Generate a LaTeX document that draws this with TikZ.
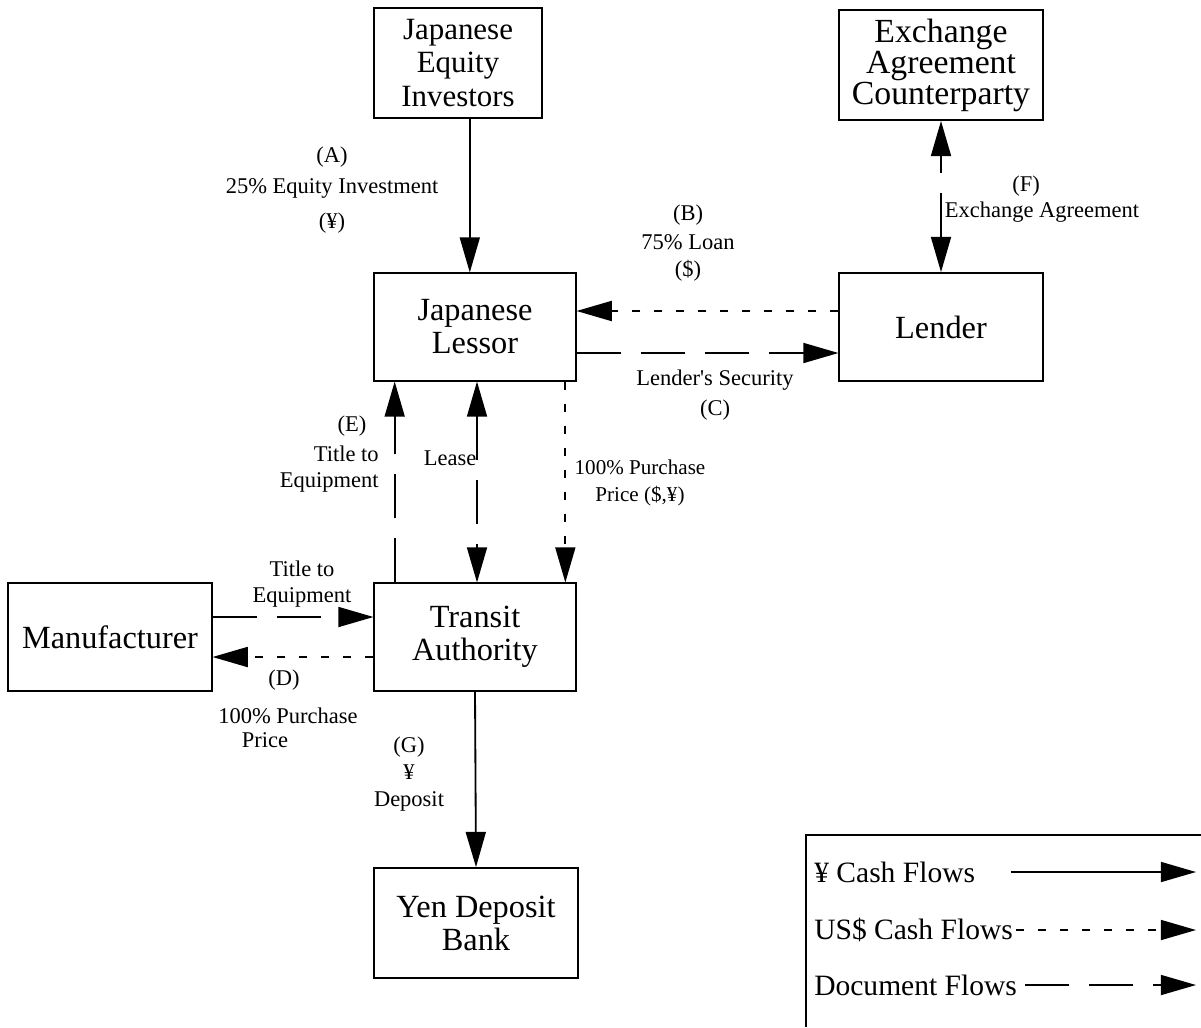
\documentclass[tikz,border=0pt]{standalone}
\usepackage{fontspec}
\setmainfont{Liberation Serif}
\usetikzlibrary{arrows.meta}

\begin{document}
\begin{tikzpicture}[x=0.025cm, y=-0.025cm,
    >={Triangle[length=0.88cm, width=0.5cm]},
    box/.style={draw, line width=1.3pt, align=center, inner sep=0pt,
      font=\fontsize{23}{23.5}\selectfont},
    lbl/.style={align=center, inner sep=0pt, font=\fontsize{16}{19}\selectfont},
    legtext/.style={inner sep=0pt, anchor=west, font=\fontsize{21}{24}\selectfont},
    yenflow/.style={line width=1.3pt, ->},
    usdflow/.style={yenflow, dash pattern=on 0.2cm off 0.35cm},
    docflow/.style={yenflow, dash pattern=on 1.1cm off 0.5cm}]
    \useasboundingbox (0,0) rectangle (1201,1027);
    % boxes
    \node[box, minimum width=4.18cm, minimum height=2.73cm,
      font=\fontsize{22}{23.5}\selectfont] (inv) at (458,63) {Japanese\\Equity\\Investors};
    \node[box, minimum width=5.08cm, minimum height=2.75cm,
      font=\fontsize{24}{20}\selectfont] (exch) at (941,65) {Exchange\\Agreement\\Counterparty};
    \node[box, minimum width=5.03cm, minimum height=2.68cm] (lessor) at (475,327) {Japanese\\Lessor};
    \node[box, minimum width=5.08cm, minimum height=2.7cm] (lender) at (941,327) {Lender};
    \node[box, minimum width=5.03cm, minimum height=2.68cm] (transit) at (475,637) {Transit\\Authority};
    \node[box, minimum width=5.08cm, minimum height=2.68cm] (manuf) at (110,637) {Manufacturer};
    \node[box, minimum width=5.08cm, minimum height=2.75cm] (bank) at (476,923) {Yen Deposit\\Bank};
    % flows
    \draw[yenflow] ([xshift=-0.13cm]lessor.north |- inv.south) -- ([xshift=-0.13cm]lessor.north);
    \draw[usdflow] ([yshift=0.4cm]lender.west) -- ([yshift=0.4cm]lender.west -| lessor.east);
    \draw[docflow] ([yshift=-0.65cm]lessor.east) -- ([yshift=-0.65cm]lessor.east -| lender.west);
    \draw[docflow, <->] (lender.north) -- (exch.south);
    \draw[docflow] ([xshift=0.53cm]transit.north west) -- ([xshift=0.53cm]lessor.south west);
    \draw[docflow, <->] ([xshift=0.05cm]lessor.south) -- ([xshift=0.05cm]transit.north);
    \draw[usdflow] ([xshift=-0.28cm]lessor.south east) -- ([xshift=-0.28cm]transit.north east);
    \draw[docflow] ([yshift=0.5cm]manuf.east) -- ([yshift=0.5cm]manuf.east -| transit.west);
    \draw[usdflow] ([yshift=-0.5cm]transit.west) -- ([yshift=-0.5cm]transit.west -| manuf.east);
    \draw[yenflow] (transit.south) -- (bank.north);
    % labels
    \node[lbl] (la) at (332,190) {(A)\\[3pt]25\% Equity Investment\\[6pt](¥)};
    \node[lbl] (lb) at (688,243) {(B)\\[2pt]75\% Loan\\(\$)};
    \node[lbl] (lc) at (715,395) {Lender\textquotesingle s Security\\[2pt](C)};
    \node[lbl] (lf) at (1026,186) {(F)};
    \node[lbl] (lfx) at (1042,212) {Exchange Agreement};
    \node[lbl] (le) at (352,426) {(E)};
    \node[lbl, align=right, anchor=east] (lex) at (379,469) {Title to\\Equipment};
    \node[lbl] (llease) at (450,458) {Lease};
    \node[lbl, font=\fontsize{15}{19}\selectfont] (lpp) at (640,483) {100\% Purchase\\Price (\$,¥)};
    \node[lbl] (ltitle) at (302,584) {Title to\\Equipment};
    \node[lbl] (ld) at (284,680) {(D)};
    \node[lbl] (ldp) at (288,716) {100\% Purchase};
    \node[lbl] (ldprice) at (265,740) {Price};
    \node[lbl] (lg) at (409,774) {(G)\\¥\\Deposit};
    % legend
    \draw[line width=1.3pt] (1201,835) -| (806,1027);
    \node[legtext] (legyen) at (814,872) {¥ Cash Flows};
    \node[legtext] (legusd) at (814,930) {US\$ Cash Flows};
    \node[legtext] (legdoc) at (814,985) {Document Flows};
    \coordinate (legend) at (1196,872);
    \draw[yenflow] ([xshift=0.88cm]legyen.east) -- (legend);
    \draw[usdflow] ([xshift=0.08cm]legusd.east) -- (legusd.east -| legend);
    \draw[docflow] ([xshift=0.2cm]legdoc.east) -- (legdoc.east -| legend);
\end{tikzpicture}
\end{document}
